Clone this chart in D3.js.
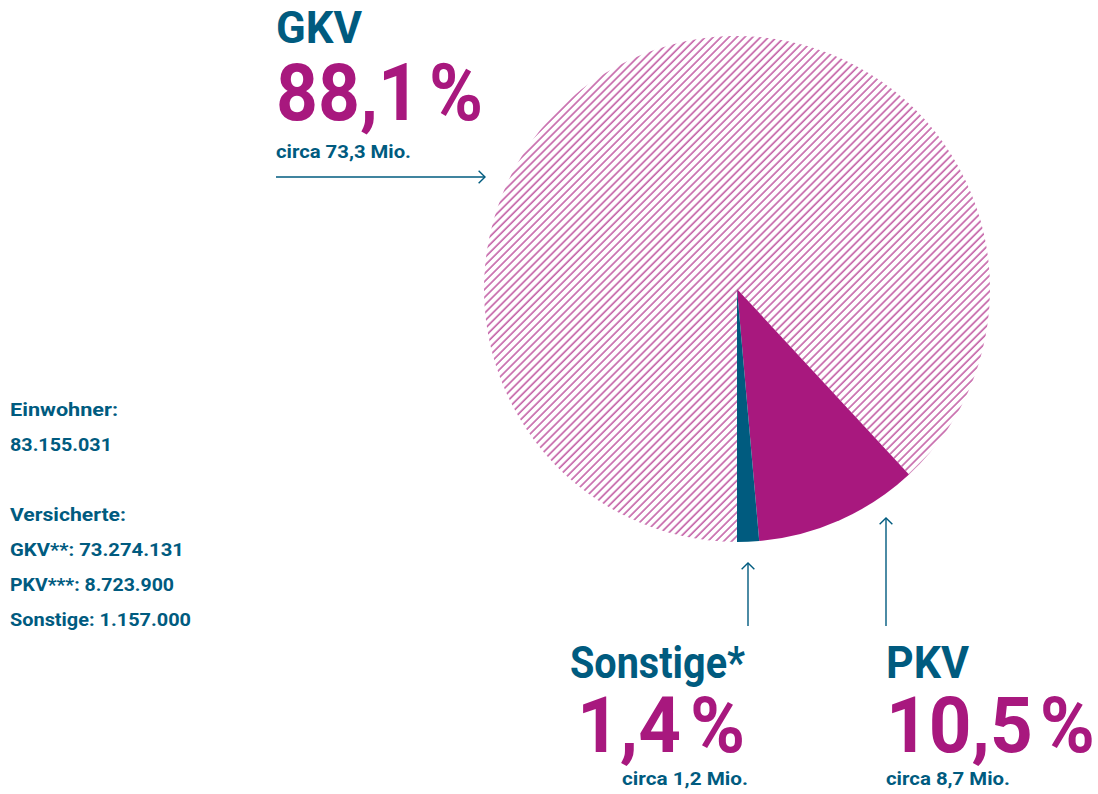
<!DOCTYPE html>
<html>
<head>
<meta charset="utf-8">
<script src="https://cdn.jsdelivr.net/npm/d3@7"></script>
<style>
  html, body { margin: 0; padding: 0; background: #fff; }
  svg { display: block; }
  text { font-family: Roboto, "Noto Sans", sans-serif; font-weight: 700; }
</style>
</head>
<body>
<svg id="chart" width="1098" height="794"></svg>
<script>
// ---- data ----
const categories = ["GKV", "PKV", "Sonstige"];
const shares = [88.1, 10.5, 1.4];
const labelNames = ["GKV", "PKV", "Sonstige*"];
const shareLabels = ["88,1 %", "10,5 %", "1,4 %"];
const approxLabels = ["circa 73,3 Mio.", "circa 8,7 Mio.", "circa 1,2 Mio."];
const infoLines = ["Einwohner:", "83.155.031", "", "Versicherte:", "GKV**: 73.274.131", "PKV***: 8.723.900", "Sonstige: 1.157.000"];

const BLUE = "#005b7f";
const MAGENTA = "#a8187e";

const svg = d3.select("#chart");

// hatch pattern
const defs = svg.append("defs");
const pat = defs.append("pattern")
  .attr("id", "hatch")
  .attr("patternUnits", "userSpaceOnUse")
  .attr("width", 5.6).attr("height", 10)
  .attr("patternTransform", "rotate(45)");
pat.append("line")
  .attr("x1", 1).attr("y1", 0).attr("x2", 1).attr("y2", 10)
  .attr("stroke", MAGENTA).attr("stroke-width", 1.1);

// pie
const cx = 737, cy = 289, r = 253;
const pie = d3.pie().sort(null).value(d => d).startAngle(Math.PI).endAngle(3 * Math.PI);
const arcs = pie(shares);
const arc = d3.arc().innerRadius(0).outerRadius(r);
const fills = ["url(#hatch)", MAGENTA, BLUE];
const g = svg.append("g").attr("transform", `translate(${cx},${cy})`);
g.selectAll("path").data(arcs).join("path")
  .attr("d", arc)
  .attr("fill", (d, i) => fills[i]);

// arrows
function arrow(x1, y1, x2, y2) {
  svg.append("line").attr("x1", x1).attr("y1", y1).attr("x2", x2).attr("y2", y2)
    .attr("stroke", BLUE).attr("stroke-width", 1.4);
  const ang = Math.atan2(y2 - y1, x2 - x1);
  const s = 9;
  const p = [
    [x2 - s * Math.cos(ang - Math.PI / 4), y2 - s * Math.sin(ang - Math.PI / 4)],
    [x2, y2],
    [x2 - s * Math.cos(ang + Math.PI / 4), y2 - s * Math.sin(ang + Math.PI / 4)]
  ];
  svg.append("path").attr("d", d3.line()(p)).attr("fill", "none")
    .attr("stroke", BLUE).attr("stroke-width", 1.4);
}
arrow(276, 177, 485, 177);
arrow(748, 626, 748, 563);
arrow(886, 626, 886, 518);

// labels
function addText(x, y, anchor, color, size, width, t, ws) {
  const el = svg.append("text").attr("x", x).attr("y", y).attr("text-anchor", anchor)
    .attr("fill", color).attr("font-size", size)
    .attr("textLength", width).attr("lengthAdjust", "spacingAndGlyphs")
    .text(t);
  if (ws) el.attr("word-spacing", ws);
}
// GKV
addText(276, 43, "start", BLUE, 44, 86, labelNames[0]);
addText(276, 120, "start", MAGENTA, 80, 207, shareLabels[0], -10);
addText(276, 158, "start", BLUE, 18, 135, approxLabels[0]);
// PKV
addText(886, 678, "start", BLUE, 44, 83, labelNames[1]);
addText(886, 752, "start", MAGENTA, 78, 209, shareLabels[1], -12);
addText(886, 785, "start", BLUE, 18, 124, approxLabels[1]);
// Sonstige (right aligned)
addText(745, 678, "end", BLUE, 44, 175, labelNames[2]);
addText(745, 752, "end", MAGENTA, 78, 168, shareLabels[2], -10);
addText(748, 785, "end", BLUE, 18, 126, approxLabels[2]);

// info block
const infoWidths = [108, 102, 0, 116, 174, 164, 181];
infoLines.forEach((t, i) => {
  if (!t) return;
  addText(10, 416 + i * 35, "start", BLUE, 18, infoWidths[i], t);
});
</script>
</body>
</html>
